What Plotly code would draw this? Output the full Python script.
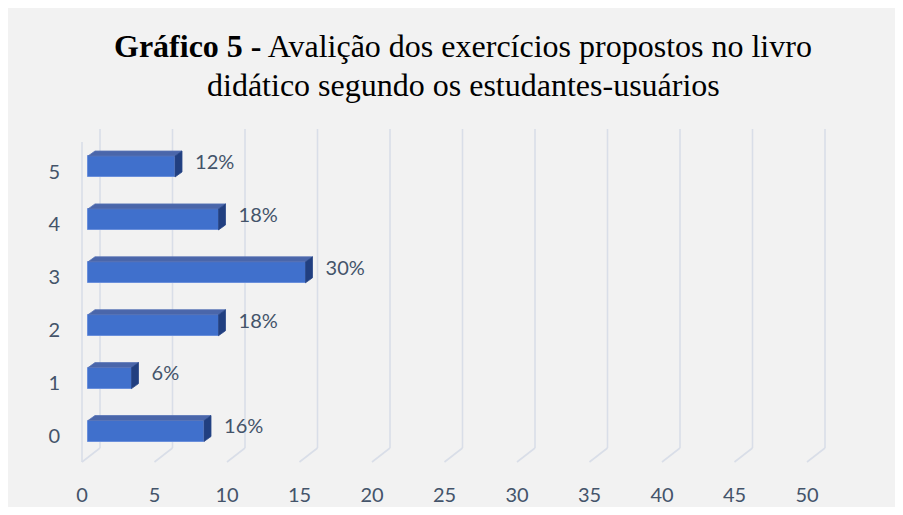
import plotly.graph_objects as go

# ---- data ----
categories = [0, 1, 2, 3, 4, 5]
values = [8, 3, 9, 15, 9, 6]
pct_labels = ["16%", "6%", "18%", "30%", "18%", "12%"]
x_ticks = [0, 5, 10, 15, 20, 25, 30, 35, 40, 45, 50]

# ---- layout geometry (window pixels; page body has an 8px margin) ----
OFF = 8
W, H = 903 - 2 * OFF, 515 - 2 * OFF
PLOT_L, PLOT_R, PLOT_T, PLOT_B = 61, 860, 120, 481   # window px
L, T = PLOT_L - OFF, PLOT_T - OFF
R, B = W - (PLOT_R - OFF), H - (PLOT_B - OFF)
PX_X = 14.5          # px per x unit
PX_Y = 52.9          # px per category
X0_PX = 82           # window px of x=0
Y0_PX = 436          # window px of category 0
xmin = (PLOT_L - X0_PX) / PX_X
xmax = (PLOT_R - X0_PX) / PX_X
ymax = (Y0_PX - PLOT_T) / PX_Y
ymin = (Y0_PX - PLOT_B) / PX_Y
pw, ph = PLOT_R - PLOT_L, PLOT_B - PLOT_T

def px2paper_x(p):
    return (p - PLOT_L) / pw

def px2paper_y(p):
    return 1 - (p - PLOT_T) / ph

# 3D offsets in data units
bar_base = 6 / PX_X
bar_yoff = 5 / PX_Y
bar_w = 21 / PX_Y
dx = 7 / PX_X
dy = 5 / PX_Y
back_dx = 18 / PX_X
front_floor = -(462 - Y0_PX) / PX_Y
back_floor = -(448 - Y0_PX) / PX_Y
grid_top = (Y0_PX - 129) / PX_Y
left_top = (Y0_PX - 142) / PX_Y

grid_col = "#d9dee8"
text_col = "#44546a"
FONT = "Lato"

shapes = []
for v in x_ticks:
    shapes.append(dict(type="line", xref="x", yref="y", layer="below",
                       x0=v, y0=front_floor, x1=v + back_dx, y1=back_floor,
                       line=dict(color=grid_col, width=1.6)))
    shapes.append(dict(type="line", xref="x", yref="y", layer="below",
                       x0=v + back_dx, y0=back_floor, x1=v + back_dx, y1=grid_top,
                       line=dict(color=grid_col, width=1.6)))
shapes.append(dict(type="line", xref="x", yref="y", layer="below",
                   x0=0, y0=front_floor, x1=0, y1=left_top,
                   line=dict(color=grid_col, width=1.6)))

fig = go.Figure()

# bars: front face
fig.add_trace(go.Bar(
    x=values, y=[c + bar_yoff for c in categories], base=bar_base,
    orientation="h", width=bar_w,
    marker=dict(color="#4070cc", line=dict(color="#6a8fdb", width=1)),
    showlegend=False, hoverinfo="skip"))

# top and side faces
for c, v in zip(categories, values):
    yc = c + bar_yoff
    yt, yb = yc + bar_w / 2, yc - bar_w / 2
    x0, x1 = bar_base, bar_base + v
    fig.add_trace(go.Scatter(
        x=[x0, x0 + dx, x1 + dx, x1, x0], y=[yt, yt + dy, yt + dy, yt, yt],
        fill="toself", fillcolor="#4a66aa", mode="lines",
        line=dict(color="#5874b6", width=0.8),
        hoverinfo="skip", showlegend=False))
    fig.add_trace(go.Scatter(
        x=[x1, x1, x1 + dx, x1 + dx, x1], y=[yb, yt, yt + dy, yb + dy, yb],
        fill="toself", fillcolor="#213f80", mode="lines",
        line=dict(color="#2a4788", width=0.8),
        hoverinfo="skip", showlegend=False))

# percentage labels
fig.add_trace(go.Scatter(
    x=[bar_base + v + dx + 0.9 for v in values],
    y=[c + bar_yoff + 0.05 for c in categories],
    text=pct_labels, mode="text", textposition="middle right",
    textfont=dict(family=FONT, size=20, color=text_col),
    hoverinfo="skip", showlegend=False))

fig.update_layout(
    width=W, height=H,
    margin=dict(l=L, r=R, t=T, b=B, autoexpand=False),
    paper_bgcolor="#f2f2f2", plot_bgcolor="#f2f2f2",
    bargap=0,
    xaxis=dict(range=[xmin, xmax], tickvals=x_ticks, showgrid=False,
               zeroline=False, showline=False, ticks="", automargin=False,
               tickfont=dict(family=FONT, size=20, color=text_col)),
    yaxis=dict(range=[ymin, ymax], tickvals=categories, showgrid=False,
               zeroline=False, showline=False, ticks="", automargin=False,
               tickfont=dict(family=FONT, size=20, color=text_col)),
    shapes=shapes,
    annotations=[
        dict(xref="paper", yref="paper", x=px2paper_x(463), y=px2paper_y(46),
             xanchor="center", yanchor="middle", showarrow=False,
             text="<b>Gráfico 5 -</b> Avalição dos exercícios propostos no livro",
             font=dict(family="Liberation Serif", size=32, color="black")),
        dict(xref="paper", yref="paper", x=px2paper_x(463), y=px2paper_y(85),
             xanchor="center", yanchor="middle", showarrow=False,
             text="didático segundo os estudantes-usuários",
             font=dict(family="Liberation Serif", size=32, color="black")),
    ],
)

fig.write_html("out.html")
